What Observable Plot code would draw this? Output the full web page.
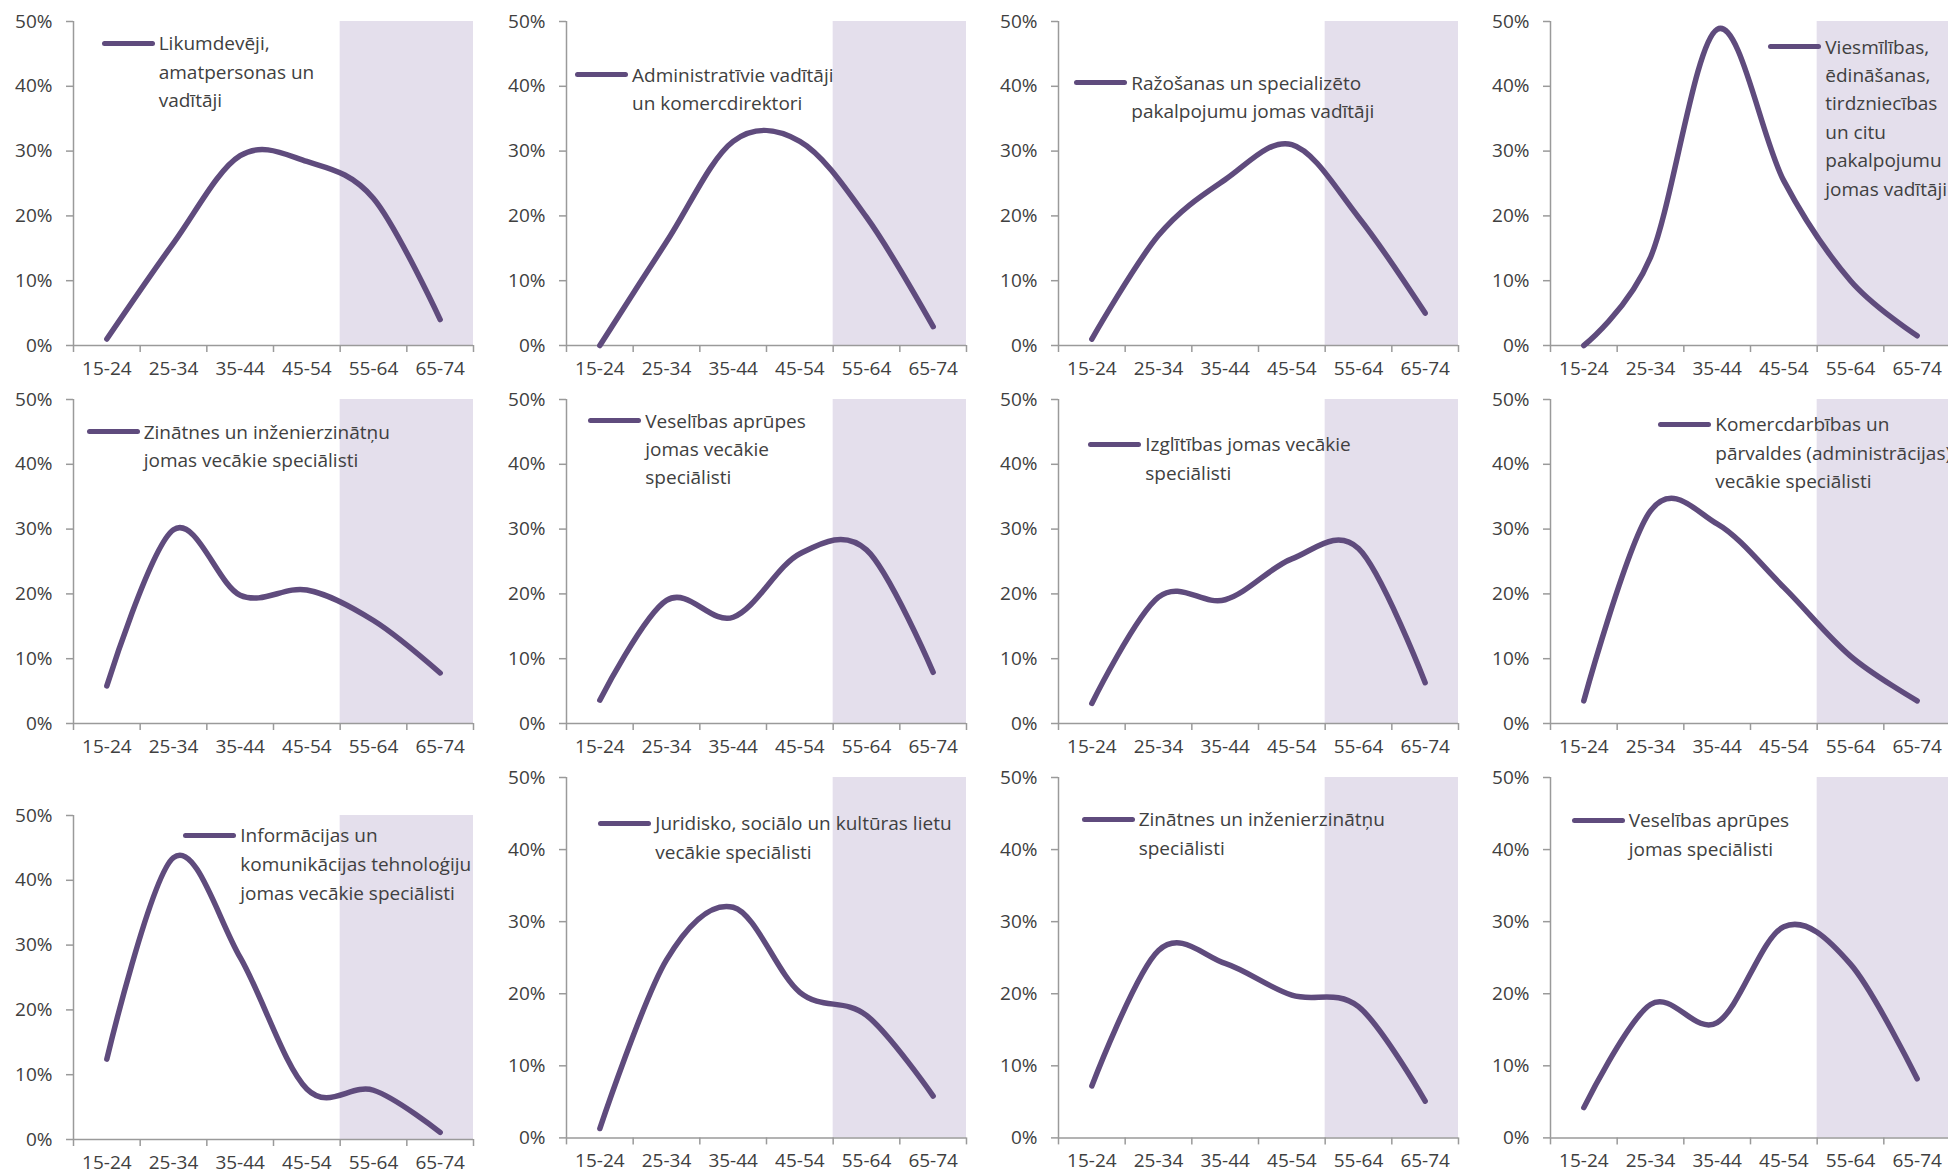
<!DOCTYPE html>
<html><head><meta charset="utf-8">
<script src="https://cdn.jsdelivr.net/npm/d3@7"></script>
<script src="https://cdn.jsdelivr.net/npm/@observablehq/plot@0.6"></script>
<style>
html,body{margin:0;padding:0;background:#fff;overflow:hidden}
#root{position:relative;width:1948px;height:1173px;font-family:"Open Sans",sans-serif;color:#404040}
.panel{position:absolute}
.legend{position:absolute;display:flex;align-items:flex-start;font-size:19px;white-space:pre;color:#404040}
.sw{display:inline-block;width:53px;height:5px;border-radius:3px;background:#5f4b7d;margin-right:4px;flex:none}
</style></head><body><div id="root"></div>
<script>
// ---- data ----
const ages = ["15-24", "25-34", "35-44", "45-54", "55-64", "65-74"];
const shadedAges = ["55-64", "65-74"];
const yTicks = [0, 10, 20, 30, 40, 50];

const names = [
  "Likumdevēji,\namatpersonas un\nvadītāji",
  "Administratīvie vadītāji\nun komercdirektori",
  "Ražošanas un specializēto\npakalpojumu jomas vadītāji",
  "Viesmīlības,\nēdināšanas,\ntirdzniecības\nun citu\npakalpojumu\njomas vadītāji",
  "Zinātnes un inženierzinātņu\njomas vecākie speciālisti",
  "Veselības aprūpes\njomas vecākie\nspeciālisti",
  "Izglītības jomas vecākie\nspeciālisti",
  "Komercdarbības un\npārvaldes (administrācijas)\nvecākie speciālisti",
  "Informācijas un\nkomunikācijas tehnoloģiju\njomas vecākie speciālisti",
  "Juridisko, sociālo un kultūras lietu\nvecākie speciālisti",
  "Zinātnes un inženierzinātņu\nspeciālisti",
  "Veselības aprūpes\njomas speciālisti"
];

const likumdeveji      = [1.0, 15.8, 29.3, 28.4, 22.7, 4.0];
const administrativie  = [0.0, 16.0, 31.5, 31.5, 19.8, 2.9];
const razosanas        = [1.0, 17.0, 25.6, 31.0, 19.8, 5.0];
const viesmilibas      = [0.0, 13.6, 48.8, 25.4, 10.0, 1.5];
const zinatnesVecakie  = [5.8, 29.9, 19.8, 20.6, 15.9, 7.8];
const veselibasVecakie = [3.6, 19.0, 16.4, 26.2, 26.8, 7.9];
const izglitibas       = [3.1, 19.5, 19.1, 25.4, 27.0, 6.3];
const komercdarbibas   = [3.5, 32.8, 30.8, 21.0, 10.4, 3.5];
const ikt              = [12.4, 43.5, 28.1, 7.8, 7.6, 1.1];
const juridisko        = [1.3, 24.7, 32.0, 20.2, 17.0, 5.8];
const zinatnesSpec     = [7.2, 26.0, 24.2, 19.8, 18.2, 5.1];
const veselibasSpec    = [4.2, 18.5, 16.0, 29.3, 24.1, 8.2];

const series = [likumdeveji, administrativie, razosanas, viesmilibas,
  zinatnesVecakie, veselibasVecakie, izglitibas, komercdarbibas,
  ikt, juridisko, zinatnesSpec, veselibasSpec];

// ---- layout (pixel positions of each frame and legend) ----
const layout = [
  {left: 73.3, top: 21, h: 324, lx: 101.7, ly: 43.3, lh: 28.4},
  {left: 566, top: 21, h: 324, lx: 575, ly: 75, lh: 28.4},
  {left: 1057.7, top: 21, h: 324, lx: 1074.3, ly: 82.7, lh: 28.4},
  {left: 1550, top: 21, h: 324, lx: 1768.3, ly: 46.7, lh: 28.4},
  {left: 73.3, top: 399, h: 324, lx: 86.7, ly: 431.7, lh: 28.4},
  {left: 566, top: 399, h: 324, lx: 588.3, ly: 420.7, lh: 28.4},
  {left: 1057.7, top: 399, h: 324, lx: 1088.3, ly: 444.3, lh: 28.4},
  {left: 1550, top: 399, h: 324, lx: 1658.3, ly: 424.3, lh: 28.4},
  {left: 73.3, top: 815, h: 324, lx: 183.3, ly: 835, lh: 29},
  {left: 566, top: 777.3, h: 360.4, lx: 598.3, ly: 823.3, lh: 29},
  {left: 1057.7, top: 777.3, h: 360.4, lx: 1081.7, ly: 819, lh: 29},
  {left: 1550, top: 777.3, h: 360.4, lx: 1571.7, ly: 820, lh: 29}
];

const LINE = "#5f4b7d", SHADE = "#e4dfec", AXIS = "#9a9a9a", TEXT = "#404040";
const ML = 70, MR = 6, MT = 12, MB = 44, W = 400;

const root = document.getElementById("root");
const shadeStart = ages.indexOf(shadedAges[0]);
const shadeEnd = ages.indexOf(shadedAges[shadedAges.length - 1]) + 1;

series.forEach((vals, k) => {
  const L = layout[k];
  const data = ages.map((a, i) => ({age: a, pos: i + 0.5, v: vals[i]}));
  const chart = Plot.plot({
    width: ML + W + MR,
    height: MT + L.h + MB,
    marginLeft: ML, marginRight: MR, marginTop: MT, marginBottom: MB,
    x: {domain: [0, ages.length]},
    y: {domain: [yTicks[0], yTicks[yTicks.length - 1]]},
    style: {fontFamily: '"Open Sans", sans-serif', fontSize: "19px", color: TEXT, background: "transparent", overflow: "visible"},
    marks: [
      Plot.rect([{x1: shadeStart, x2: shadeEnd}], {x1: "x1", x2: "x2", y1: yTicks[0], y2: yTicks[yTicks.length - 1], fill: SHADE}),
      Plot.axisY({ticks: yTicks, tickFormat: d => d + "%", tickSize: 7, tickPadding: 14, stroke: AXIS, fill: TEXT, strokeWidth: 1.5, label: null}),
      Plot.axisX({ticks: d3.range(ages.length + 1), tickFormat: () => "", tickSize: 7, stroke: AXIS, strokeWidth: 1.5, label: null}),
      Plot.axisX({ticks: data.map(d => d.pos), tickFormat: v => ages[Math.floor(v)], tickSize: 0, tickPadding: 16, fill: TEXT, label: null}),
      Plot.ruleX([0], {stroke: AXIS, strokeWidth: 1.5}),
      Plot.ruleY([0], {stroke: AXIS, strokeWidth: 1.5}),
      Plot.line(data, {x: "pos", y: "v", stroke: LINE, strokeWidth: 5.5, curve: "cardinal", tension: 0, strokeLinecap: "round", strokeLinejoin: "round"})
    ]
  });
  chart.classList.add("panel");
  chart.style.left = (L.left - ML) + "px";
  chart.style.top = (L.top - MT) + "px";
  root.appendChild(chart);

  const lg = document.createElement("div");
  lg.className = "legend";
  lg.style.left = L.lx + "px";
  lg.style.top = (L.ly - L.lh / 2) + "px";
  lg.style.lineHeight = L.lh + "px";
  const sw = document.createElement("span");
  sw.className = "sw";
  sw.style.marginTop = (L.lh / 2 - 2.5) + "px";
  const tx = document.createElement("div");
  tx.textContent = names[k];
  lg.appendChild(sw);
  lg.appendChild(tx);
  root.appendChild(lg);
});
</script>
</body></html>
